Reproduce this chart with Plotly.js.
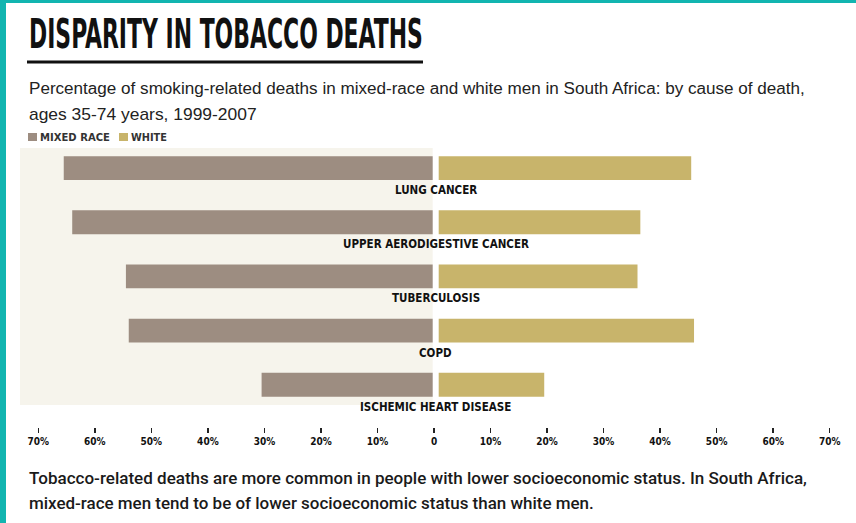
<!DOCTYPE html>
<html><head><meta charset="utf-8">
<script src="https://cdn.plot.ly/plotly-3.0.1.min.js"></script>
<style>html,body{margin:0;padding:0;background:#fff;} #chart{width:856px;height:523px;}</style>
</head><body><div id="chart"></div>
<script>
// ---- data ----
const categories = ["LUNG CANCER", "UPPER AERODIGESTIVE CANCER", "TUBERCULOSIS", "COPD", "ISCHEMIC HEART DISEASE"];
const mixedRace = [65.5, 64, 54.5, 54, 30.5];
const white = [45.5, 36.5, 36, 46, 19.5];
const seriesNames = ["MIXED RACE", "WHITE"];
const tickValues = [-70, -60, -50, -40, -30, -20, -10, 0, 10, 20, 30, 40, 50, 60, 70];
const tickLabels = ["70%", "60%", "50%", "40%", "30%", "20%", "10%", "0", "10%", "20%", "30%", "40%", "50%", "60%", "70%"];
const titleText = "DISPARITY IN TOBACCO DEATHS";
const subtitleLines = ["Percentage of smoking-related deaths in mixed-race and white men in South Africa: by cause of death,", "ages 35-74 years, 1999-2007"];
const noteLines = ["Tobacco-related deaths are more common in people with lower socioeconomic status. In South Africa,", "mixed-race men tend to be of lower socioeconomic status than white men."];

// ---- style ----
const W = 856, H = 523;
const M = {l: 27, r: 15, t: 141, b: 96};
const COND = "DejaVu Sans Condensed, Liberation Sans Narrow, sans-serif";
const BODY = "Liberation Sans, Arial, sans-serif";
const NOTE = "Roboto, Liberation Sans, sans-serif";
const mixedColor = "#9d8d81", whiteColor = "#c8b46b";
const px = x => (x - M.l) / (W - M.l - M.r);
const py = y => (H - M.b - y) / (H - M.t - M.b);

const traces = [
  {type: "bar", orientation: "h", name: seriesNames[0], y: categories, x: mixedRace.map(v => -v),
   marker: {color: mixedColor}, width: 0.44, hoverinfo: "skip"},
  {type: "bar", orientation: "h", name: seriesNames[1], y: categories, x: white,
   marker: {color: whiteColor}, width: 0.44, hoverinfo: "skip"}
];

const annotations = [];
const fitWidths = {}; // annotation index -> target width in px
function addText(txt, x, y, font, fitW) {
  if (fitW) fitWidths[annotations.length] = fitW;
  annotations.push({text: txt, xref: "paper", yref: "paper", x: px(x), y: py(y), xanchor: "left", yanchor: "middle",
    align: "left", showarrow: false, font: font});
}
addText(titleText, 27, 34, {family: COND, size: 41, weight: 700, color: "#111"}, 394);
addText(subtitleLines[0], 27, 89, {family: BODY, size: 16, color: "#222"}, 776);
addText(subtitleLines[1], 27, 114, {family: BODY, size: 16, color: "#222"}, 228);
addText(seriesNames[0], 38, 137, {family: COND, size: 10, weight: 700, color: "#333"}, 70);
addText(seriesNames[1], 129, 137, {family: COND, size: 10, weight: 700, color: "#333"}, 36);
addText(noteLines[0], 27, 478, {family: NOTE, size: 16, weight: 500, color: "#1a1a1a"}, 779);
addText(noteLines[1], 27, 503, {family: NOTE, size: 16, weight: 500, color: "#1a1a1a"}, 565);
categories.forEach(c => annotations.push({
  text: c, xref: "x", yref: "y", x: 0.3, y: c, yshift: -22, xanchor: "center", yanchor: "middle",
  showarrow: false, font: {family: COND, size: 11.5, weight: 700, color: "#111"}
}));

const shapes = [
  {type: "rect", xref: "paper", yref: "paper", x0: px(20), x1: px(434), y0: py(148), y1: py(405),
   fillcolor: "#f6f4ec", line: {width: 0}, layer: "below"},
  {type: "line", xref: "x", yref: "paper", x0: 0.3, x1: 0.3, y0: py(405), y1: py(148),
   line: {color: "#ffffff", width: 6}, layer: "above"},
  {type: "line", xref: "paper", yref: "paper", x0: px(27), x1: px(423), y0: py(62), y1: py(62),
   line: {color: "#111", width: 3}},
  {type: "rect", xref: "paper", yref: "paper", x0: px(28), x1: px(37), y0: py(141), y1: py(133),
   fillcolor: mixedColor, line: {width: 0}},
  {type: "rect", xref: "paper", yref: "paper", x0: px(119), x1: px(128), y0: py(141), y1: py(133),
   fillcolor: whiteColor, line: {width: 0}},
  {type: "rect", xref: "paper", yref: "paper", x0: px(0), x1: px(6), y0: py(0), y1: py(H),
   fillcolor: "#12b5b0", line: {width: 0}},
  {type: "rect", xref: "paper", yref: "paper", x0: px(0), x1: px(W), y0: py(0), y1: py(3),
   fillcolor: "#12b5b0", line: {width: 0}}
];

const layout = {
  width: W, height: H, margin: M, paper_bgcolor: "#fff", plot_bgcolor: "rgba(0,0,0,0)",
  showlegend: false, barmode: "overlay",
  xaxis: {range: [-72, 72], tickvals: tickValues, ticktext: tickLabels, ticks: "outside", ticklen: 5,
          tickwidth: 1.5, tickcolor: "#222", showgrid: false, zeroline: false, showline: false,
          tickfont: {family: COND, size: 10, weight: 700, color: "#111"}, fixedrange: true},
  yaxis: {type: "category", categoryarray: categories, categoryorder: "array", range: [4.78, -0.5],
          showticklabels: false, ticks: "", showgrid: false, zeroline: false, showline: false, fixedrange: true},
  annotations: annotations, shapes: shapes
};

Plotly.newPlot("chart", traces, layout, {staticPlot: true}).then(gd => {
  const texts = gd.querySelectorAll(".annotation .annotation-text");
  Object.keys(fitWidths).forEach(i => {
    const t = texts[i];
    if (!t) return;
    const bb = t.getBBox();
    if (!bb.width) return;
    const s = fitWidths[i] / bb.width;
    t.style.transformBox = "fill-box";
    t.style.transformOrigin = "left center";
    t.style.transform = "scaleX(" + s + ")";
  });
});
</script></body></html>
